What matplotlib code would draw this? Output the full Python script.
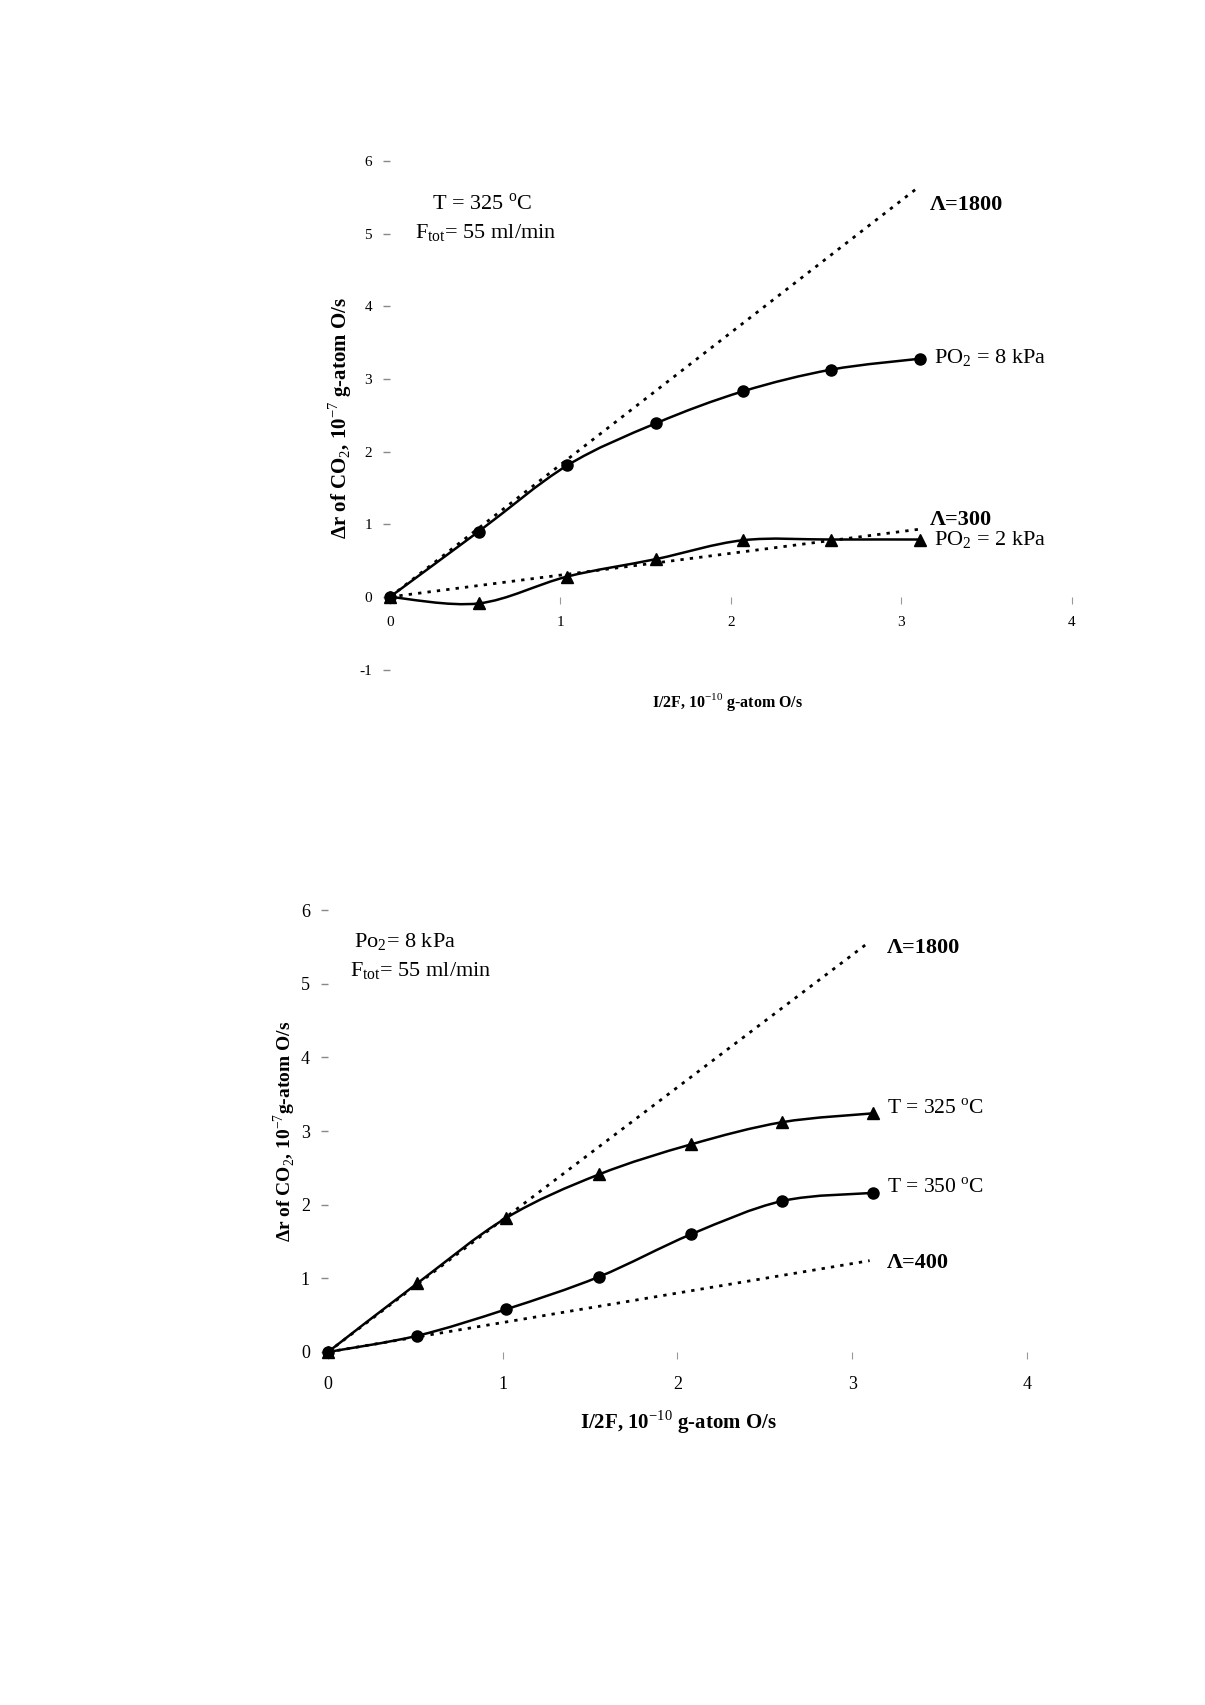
import numpy as np
import matplotlib
matplotlib.use('Agg')
import matplotlib.pyplot as plt
from matplotlib.path import Path
from matplotlib.patches import PathPatch

plt.rcParams['font.family'] = ['Liberation Serif', 'DejaVu Serif']
plt.rcParams['mathtext.fontset'] = 'custom'
plt.rcParams['mathtext.rm'] = 'Liberation Serif'
plt.rcParams['mathtext.bf'] = 'Liberation Serif:bold'

# top panel: T = 325 C, two oxygen pressures
top_x = [0, 0.52, 1.04, 1.56, 2.07, 2.59, 3.11]
top_po2_8 = [0, 0.90, 1.81, 2.39, 2.83, 3.13, 3.28]
top_po2_2 = [0, -0.09, 0.28, 0.52, 0.78, 0.79, 0.79]
top_lam1800_x = [0, 3.10]
top_lam1800_y = [0, 5.64]
top_lam300_x = [0, 3.10]
top_lam300_y = [0, 0.93]

# bottom panel: PO2 = 8 kPa, two temperatures
bot_x = [0, 0.51, 1.02, 1.55, 2.08, 2.60, 3.12]
bot_t325 = [0, 0.93, 1.82, 2.41, 2.82, 3.12, 3.24]
bot_t350 = [0, 0.22, 0.58, 1.02, 1.60, 2.05, 2.16]
bot_lam1800_x = [0, 3.10]
bot_lam1800_y = [0, 5.57]
bot_lam400_x = [0, 3.10]
bot_lam400_y = [0, 1.24]

x_ticks = [0, 1, 2, 3, 4]


def smooth_line(ax, xs, ys):
    # Catmull-Rom style bezier through the points (like a spreadsheet smoothed line)
    xs = np.asarray(xs, float)
    ys = np.asarray(ys, float)
    pts = np.column_stack([xs, ys])
    verts = [pts[0]]
    codes = [Path.MOVETO]
    n = len(pts)
    for i in range(n - 1):
        p0 = pts[i - 1] if i > 0 else pts[i]
        p1 = pts[i]
        p2 = pts[i + 1]
        p3 = pts[i + 2] if i + 2 < n else pts[i + 1]
        c1 = p1 + (p2 - p0) / 6.0
        c2 = p2 - (p3 - p1) / 6.0
        verts += [c1, c2, p2]
        codes += [Path.CURVE4] * 3
    ax.add_patch(PathPatch(Path(verts, codes), fill=False, edgecolor='black', lw=1.8, zorder=3))


def style_axes(ax, yticks, tick_size, xpad):
    for s in ['top', 'right']:
        ax.spines[s].set_visible(False)
    # axes cross at the data origin, lines themselves not drawn
    ax.spines['bottom'].set_position(('data', 0))
    ax.spines['bottom'].set_visible(False)
    ax.spines['left'].set_position(('data', 0))
    ax.spines['left'].set_visible(False)
    ax.set_xlim(-0.1, 4.1)
    ax.set_xticks(x_ticks)
    ax.set_xticklabels([str(t) for t in x_ticks], fontsize=tick_size)
    ax.tick_params(axis='x', direction='out', length=5, width=0.8, color='#999999', pad=xpad)
    ax.set_yticks(yticks)
    ax.set_yticklabels([str(t) for t in yticks], fontsize=tick_size)
    ax.tick_params(axis='y', direction='out', length=5, width=1.0, color='#888888', pad=8)
    ax.patch.set_visible(False)


fig = plt.figure(figsize=(12.05, 17.05), dpi=100)

# ---------- top panel ----------
ax1 = fig.add_axes([0.3095, 0.5988, 0.594, 0.3152])
ax1.set_ylim(-1.2, 6.2)
style_axes(ax1, [-1, 0, 1, 2, 3, 4, 5, 6], 11, 9)

ax1.plot(top_lam1800_x, top_lam1800_y, color='black', ls=(0, (1.2, 2.2)), lw=2)
ax1.plot(top_lam300_x, top_lam300_y, color='black', ls=(0, (1.2, 2.2)), lw=2)
smooth_line(ax1, top_x, top_po2_8)
smooth_line(ax1, top_x, top_po2_2)
ax1.plot(top_x, top_po2_8, 'o', color='black', ms=8, zorder=4)
ax1.plot(top_x, top_po2_2, '^', color='black', ms=8, zorder=4)

ax1.text(0.54, 5.40, 'T = 325 $^{\\rm o}$C', fontsize=16, ha='center', va='center')
ax1.text(0.56, 5.01, 'F$_{\\rm tot}$= 55 ml/min', fontsize=16, ha='center', va='center')
ax1.text(3.17, 5.40, '\u039b=1800', fontsize=16, fontweight='bold', ha='left', va='center')
ax1.text(3.19, 3.28, 'PO$_2$ = 8 kPa', fontsize=16, ha='left', va='center')
ax1.text(3.17, 1.06, '\u039b=300', fontsize=16, fontweight='bold', ha='left', va='center')
ax1.text(3.19, 0.78, 'PO$_2$ = 2 kPa', fontsize=16, ha='left', va='center')

fig.text(340 / 1205, 1 - 418 / 1705, '\u0394r of CO$_2$, 10$^{-7}$ g-atom O/s',
         fontsize=15, fontweight='bold', rotation=90, ha='center', va='center')
fig.text(728 / 1205, 1 - 702 / 1705, 'I/2F, 10$^{-10}$ g-atom O/s',
         fontsize=11.5, fontweight='bold', ha='center', va='center')

# ---------- bottom panel ----------
ax2 = fig.add_axes([0.2577, 0.1984, 0.609, 0.2765])
ax2.set_ylim(-0.2, 6.2)
style_axes(ax2, [0, 1, 2, 3, 4, 5, 6], 13, 12)

ax2.plot(bot_lam1800_x, bot_lam1800_y, color='black', ls=(0, (1.2, 2.2)), lw=2)
ax2.plot(bot_lam400_x, bot_lam400_y, color='black', ls=(0, (1.2, 2.2)), lw=2)
smooth_line(ax2, bot_x, bot_t325)
smooth_line(ax2, bot_x, bot_t350)
ax2.plot(bot_x, bot_t325, '^', color='black', ms=8, zorder=4)
ax2.plot(bot_x, bot_t350, 'o', color='black', ms=8, zorder=4)

ax2.text(0.44, 5.57, 'Po$_2$= 8 kPa', fontsize=16, ha='center', va='center')
ax2.text(0.53, 5.17, 'F$_{\\rm tot}$= 55 ml/min', fontsize=16, ha='center', va='center')
ax2.text(3.20, 5.48, '\u039b=1800', fontsize=16, fontweight='bold', ha='left', va='center')
ax2.text(3.20, 3.30, 'T = 325 $^{\\rm o}$C', fontsize=15.5, ha='left', va='center')
ax2.text(3.20, 2.22, 'T = 350 $^{\\rm o}$C', fontsize=15.5, ha='left', va='center')
ax2.text(3.20, 1.21, '\u039b=400', fontsize=16, fontweight='bold', ha='left', va='center')

fig.text(285 / 1205, 1 - 1131 / 1705, '\u0394r of CO$_2$, 10$^{-7}$g-atom O/s',
         fontsize=14, fontweight='bold', rotation=90, ha='center', va='center')
fig.text(678 / 1205, 1 - 1422 / 1705, 'I/2F, 10$^{-10}$ g-atom O/s',
         fontsize=15, fontweight='bold', ha='center', va='center')

fig.savefig('out.png', dpi=100, facecolor='white')
